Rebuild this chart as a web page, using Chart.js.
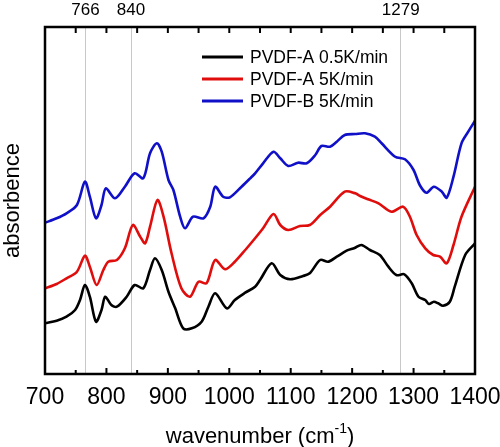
<!DOCTYPE html>
<html><head><meta charset="utf-8">
<script src="https://cdn.jsdelivr.net/npm/chart.js@4/dist/chart.umd.min.js"></script>
<style>html,body{margin:0;padding:0;background:#fff;} canvas{display:block;}</style>
</head><body>
<canvas id="c" width="500" height="447"></canvas>
<script>
// ---- data ----
const seriesLabels = ['PVDF-A 0.5K/min', 'PVDF-A 5K/min', 'PVDF-B 5K/min'];

const blackWn  = [700,719,735,749,757,765,773,783,792,798,808,817,833,846,860,871,879,890,901,912,925,939,955,966,977,996,1009,1026,1042,1050,1069,1083,1099,1120,1131,1148,1161,1175,1191,1204,1215,1229,1245,1259,1272,1285,1297,1308,1319,1325,1333,1340,1348,1359,1367,1384,1400];
const blackAbs = [0.507,0.533,0.573,0.640,0.740,0.890,0.773,0.523,0.640,0.773,0.690,0.673,0.773,0.890,0.857,1.040,1.157,1.040,0.823,0.657,0.457,0.457,0.523,0.673,0.807,0.657,0.740,0.813,0.873,0.940,1.107,0.990,0.947,0.980,1.007,1.140,1.123,1.173,1.233,1.260,1.290,1.240,1.190,1.073,0.990,0.997,0.907,0.773,0.740,0.700,0.723,0.707,0.683,0.723,0.873,1.190,1.307];

const redWn  = [700,719,735,752,765,773,784,795,803,817,830,843,855,863,871,883,893,906,922,936,950,963,977,993,1009,1026,1042,1055,1072,1083,1096,1115,1131,1148,1164,1188,1205,1213,1226,1243,1264,1283,1294,1305,1319,1332,1343,1354,1365,1378,1400];
const redAbs = [0.857,0.900,0.957,1.023,1.183,1.073,0.890,1.040,1.123,1.140,1.257,1.490,1.373,1.307,1.473,1.740,1.573,1.207,0.857,0.773,0.923,0.907,1.140,1.047,1.123,1.240,1.357,1.457,1.600,1.490,1.440,1.480,1.490,1.590,1.673,1.823,1.807,1.780,1.747,1.707,1.623,1.673,1.573,1.390,1.257,1.190,1.173,1.107,1.290,1.573,1.873];

const blueWn  = [700,719,735,752,765,773,783,792,799,814,830,846,860,871,882,890,901,909,920,928,941,958,969,977,990,1001,1020,1034,1042,1055,1072,1083,1096,1112,1126,1140,1150,1164,1175,1188,1205,1221,1237,1248,1270,1286,1300,1310,1321,1333,1346,1354,1365,1378,1389,1400];
const blueAbs = [1.513,1.557,1.607,1.690,1.923,1.773,1.557,1.690,1.857,1.757,1.873,2.007,1.957,2.207,2.307,2.223,1.940,1.840,1.573,1.457,1.573,1.557,1.673,1.873,1.773,1.767,1.873,1.957,2.007,2.107,2.223,2.157,2.080,2.113,2.107,2.190,2.280,2.273,2.323,2.390,2.400,2.407,2.373,2.307,2.173,2.147,2.040,1.890,1.813,1.873,1.823,1.763,1.973,2.307,2.423,2.533];

const markedWn = [766, 840, 1279];          // top axis labels / reference lines
const xTickValues = [700, 800, 900, 1000, 1100, 1200, 1300, 1400];
const minorTickValues = [750, 850, 950, 1050, 1150, 1250, 1350];

const toPoints = (xs, ys) => xs.map((x, i) => ({x, y: ys[i]}));
const FONT = '"Liberation Sans", Arial, sans-serif';

// ---- custom drawing: inward ticks, frame, legend, x title ----
const decorations = {
  id: 'decorations',
  afterDraw(chart) {
    const {ctx, chartArea: a} = chart;
    const x = chart.scales.x;
    ctx.save();
    ctx.strokeStyle = '#000';
    ctx.lineWidth = 2;
    xTickValues.forEach(v => {
      const p = x.getPixelForValue(v);
      ctx.beginPath(); ctx.moveTo(p, a.bottom); ctx.lineTo(p, a.bottom - 6); ctx.stroke();
      ctx.beginPath(); ctx.moveTo(p, a.top); ctx.lineTo(p, a.top + 6); ctx.stroke();
    });
    minorTickValues.forEach(v => {
      const p = x.getPixelForValue(v);
      ctx.beginPath(); ctx.moveTo(p, a.bottom); ctx.lineTo(p, a.bottom - 4); ctx.stroke();
      ctx.beginPath(); ctx.moveTo(p, a.top); ctx.lineTo(p, a.top + 6); ctx.stroke();
    });
    // frame
    ctx.lineWidth = 2.5;
    ctx.strokeRect(a.left, a.top, a.right - a.left, a.bottom - a.top);

    // legend
    ctx.font = '17.5px ' + FONT;
    ctx.textBaseline = 'middle';
    ctx.textAlign = 'left';
    chart.data.datasets.forEach((ds, i) => {
      const y = 57 + i * 22;
      ctx.strokeStyle = ds.borderColor;
      ctx.lineWidth = 3;
      ctx.beginPath(); ctx.moveTo(202, y); ctx.lineTo(243, y); ctx.stroke();
      ctx.fillStyle = '#000';
      ctx.fillText(ds.label, 250, y + 1);
    });

    // x title with superscript
    const main = 'wavenumber (cm', sup = '-1', end = ')';
    ctx.font = '22px ' + FONT;
    const w1 = ctx.measureText(main).width;
    const w3 = ctx.measureText(end).width;
    ctx.font = '14px ' + FONT;
    const w2 = ctx.measureText(sup).width;
    const total = w1 + w2 + w3;
    const cx = (a.left + a.right) / 2;
    const sx = cx - total / 2;
    const base = 443;
    ctx.textBaseline = 'alphabetic';
    ctx.fillStyle = '#000';
    ctx.font = '22px ' + FONT;
    ctx.fillText(main, sx, base);
    ctx.font = '14px ' + FONT;
    ctx.fillText(sup, sx + w1, base - 10);
    ctx.font = '22px ' + FONT;
    ctx.fillText(end, sx + w1 + w2, base);
    ctx.restore();
  }
};

const noSidePadding = s => { s.paddingLeft = 0; s.paddingRight = 0; };

new Chart(document.getElementById('c'), {
  type: 'scatter',
  data: {
    datasets: [
      {label: seriesLabels[0], data: toPoints(blackWn, blackAbs), borderColor: '#000000'},
      {label: seriesLabels[1], data: toPoints(redWn, redAbs), borderColor: '#e00d0d'},
      {label: seriesLabels[2], data: toPoints(blueWn, blueAbs), borderColor: '#1010c8'}
    ].map(d => Object.assign(d, {showLine: true, pointRadius: 0, borderWidth: 2.6, tension: 0.3, fill: false}))
  },
  options: {
    responsive: false,
    animation: false,
    layout: {padding: {left: 0, right: 25, top: 0, bottom: 0}},
    plugins: {legend: {display: false}, tooltip: {enabled: false}},
    scales: {
      x: {
        type: 'linear', position: 'bottom', min: 700, max: 1400,
        afterBuildTicks: s => { s.ticks = xTickValues.map(v => ({value: v})); },
        afterFit: s => { s.height = 73; noSidePadding(s); },
        grid: {display: false, drawTicks: false},
        border: {display: false},
        ticks: {color: '#000', padding: 10, autoSkip: false, maxRotation: 0, minRotation: 0,
                callback: v => String(v), font: {size: 23, family: FONT}}
      },
      xTop: {
        type: 'linear', position: 'top', min: 700, max: 1400,
        afterBuildTicks: s => { s.ticks = markedWn.map(v => ({value: v})); },
        afterFit: s => { s.height = 27; noSidePadding(s); },
        grid: {display: true, drawOnChartArea: true, drawTicks: false, color: '#c8c8c8', lineWidth: 1},
        border: {display: false},
        ticks: {color: '#000', padding: 6, autoSkip: false, maxRotation: 0, minRotation: 0,
                callback: v => String(v), font: {size: 17, family: FONT}}
      },
      y: {
        type: 'linear', position: 'left', min: 0, max: 3.47,
        afterFit: s => { s.width = 45; },
        grid: {display: false, drawTicks: false},
        border: {display: false},
        ticks: {display: false},
        title: {display: true, text: 'absorbence', color: '#000', padding: {top: 0, bottom: 8},
                font: {size: 22, family: FONT}}
      }
    }
  },
  plugins: [decorations]
});
</script>
</body></html>
